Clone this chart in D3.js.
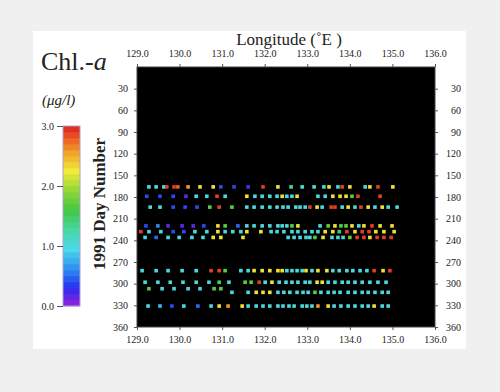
<!DOCTYPE html>
<html>
<head>
<meta charset="utf-8">
<script src="https://cdn.jsdelivr.net/npm/d3@7"></script>
<style>
  body { margin: 0; background: #f0f0f0; }
  svg text { font-family: "Liberation Serif", "DejaVu Serif", serif; fill: #222; }
</style>
</head>
<body>
<div id="chart"></div>
<script>
// axis ticks
var lonTicks = [129, 130, 131, 132, 133, 134, 135, 136];
var dayTicks = [30, 60, 90, 120, 150, 180, 210, 240, 270, 300, 330, 360];
var chlTicks = [0, 1, 2, 3];

// cruise tracks: day number, longitude of each station, chl-a (ug/l)
var dayA = 166;
var lonA = [129.28, 129.45, 129.63, 129.70, 129.87, 129.96, 130.20, 130.48, 130.79, 130.97, 131.28, 131.61, 131.96, 132.31, 132.62, 132.88, 133.16, 133.39, 133.51, 133.72, 133.82, 134.00, 134.36, 134.47, 134.66, 135.01];
var chlA = [1.0, 1.0, 1.0, 2.9, 2.9, 2.8, 2.6, 2.3, 2.3, 0.4, 0.4, 0.15, 2.9, 2.3, 1.3, 1.0, 1.0, 1.0, 2.3, 1.0, 2.9, 2.3, 1.0, 2.3, 2.9, 2.3];

var dayB = 179;
var lonB = [129.23, 129.54, 129.85, 130.15, 130.39, 130.64, 130.88, 131.07, 131.58, 131.77, 131.94, 132.12, 132.29, 132.41, 132.52, 132.64, 132.76, 133.25, 133.42, 133.60, 133.77, 133.91, 134.05, 134.19, 134.71];
var chlB = [0.4, 0.4, 0.4, 0.15, 1.0, 1.0, 2.9, 1.0, 2.3, 1.0, 1.0, 1.0, 1.0, 2.3, 1.0, 1.0, 2.3, 1.0, 1.0, 2.3, 2.3, 2.3, 1.7, 2.9, 2.9];

var dayC = 194;
var lonC = [129.31, 129.54, 129.85, 130.13, 130.41, 130.71, 130.93, 131.23, 131.58, 131.75, 131.94, 132.12, 132.29, 132.43, 132.55, 132.73, 132.83, 132.95, 133.06, 133.23, 133.35, 133.56, 133.65, 133.82, 133.96, 134.12, 134.26, 134.43, 134.59, 134.76, 134.90, 135.11];
var chlC = [1.0, 1.0, 0.4, 0.4, 0.4, 1.7, 2.9, 1.7, 1.0, 1.0, 1.0, 1.0, 1.0, 1.0, 1.0, 1.0, 1.0, 1.0, 2.9, 2.3, 1.0, 2.9, 2.9, 1.0, 2.3, 1.0, 2.9, 2.3, 1.0, 2.3, 1.0, 1.0];

var dayD = 220;
var lonD = [129.21, 129.49, 129.73, 130.06, 130.32, 130.57, 130.90, 131.07, 131.37, 131.58, 131.75, 131.94, 132.12, 132.31, 132.41, 132.52, 132.64, 132.78, 133.30, 133.49, 133.65, 133.79, 133.91, 134.05, 134.21, 134.33, 134.52, 134.71, 134.99];
var chlD = [0.4, 0.6, 0.15, 0.15, 0.15, 0.4, 2.3, 1.7, 0.5, 1.0, 1.0, 1.0, 1.0, 1.0, 1.0, 1.0, 1.7, 2.3, 1.0, 1.7, 2.3, 1.7, 1.7, 2.3, 1.0, 2.3, 2.9, 2.3, 2.3];

var dayE = 228;
var lonE = [129.09, 129.28, 129.56, 129.85, 130.10, 130.36, 130.64, 130.90, 131.07, 131.25, 131.44, 131.58, 131.91, 132.15, 132.29, 132.45, 132.64, 132.78, 132.95, 133.11, 133.25, 133.42, 133.60, 133.75, 133.93, 134.12, 134.29, 134.45, 134.61, 134.80, 135.04];
var chlE = [2.9, 1.0, 1.0, 0.4, 0.4, 1.0, 1.0, 2.3, 1.0, 1.0, 1.0, 2.3, 2.3, 1.0, 1.0, 1.0, 1.0, 1.0, 1.0, 1.0, 1.0, 2.3, 2.3, 1.5, 2.9, 2.3, 2.9, 2.9, 2.3, 2.3, 2.3];

var dayF = 236;
var lonF = [129.19, 129.45, 129.73, 129.99, 130.29, 130.55, 130.79, 130.97, 131.49, 132.55, 132.69, 132.83, 132.97, 133.06, 133.18, 133.37, 133.58, 133.72, 133.84, 134.00, 134.17, 134.33, 134.47, 134.64, 134.80, 134.97];
var chlF = [1.0, 0.5, 1.0, 1.0, 1.0, 1.0, 2.3, 2.3, 2.3, 1.0, 1.0, 1.0, 1.0, 1.0, 1.7, 2.3, 1.0, 1.0, 1.0, 1.7, 2.9, 2.9, 2.3, 2.9, 2.9, 2.9];

var dayG = 282;
var lonG = [129.12, 129.45, 129.73, 130.06, 130.39, 130.74, 130.93, 131.07, 131.44, 131.61, 131.75, 131.94, 132.12, 132.31, 132.41, 132.52, 132.64, 132.76, 132.88, 132.97, 133.11, 133.25, 133.46, 133.60, 133.75, 133.93, 134.07, 134.24, 134.40, 134.57, 134.78, 134.94];
var chlG = [1.0, 1.0, 1.0, 1.0, 1.0, 2.9, 2.9, 1.7, 1.0, 1.0, 2.3, 2.2, 2.3, 2.3, 2.3, 1.0, 1.0, 1.0, 1.0, 2.3, 1.0, 2.3, 2.3, 1.0, 1.0, 1.0, 1.0, 1.0, 1.0, 2.9, 2.3, 2.9];

var dayH = 298;
var lonH = [129.19, 129.49, 129.78, 130.08, 130.39, 130.69, 130.93, 131.16, 131.54, 131.68, 131.87, 132.01, 132.17, 132.34, 132.50, 132.64, 132.78, 132.95, 133.06, 133.23, 133.35, 133.49, 133.65, 133.82, 133.96, 134.12, 134.29, 134.47, 134.66, 134.85];
var chlH = [1.0, 1.0, 1.0, 1.0, 1.0, 1.0, 1.7, 1.0, 1.7, 1.7, 2.9, 1.0, 2.3, 1.0, 1.0, 1.0, 1.0, 1.0, 1.0, 2.3, 2.3, 1.0, 1.0, 1.0, 1.0, 1.0, 1.0, 1.0, 1.0, 1.0];

var dayI1 = 307;
var lonI1 = [129.28, 129.59, 129.87, 130.20, 130.48, 130.81, 130.97];
var chlI1 = [1.7, 1.0, 1.0, 1.0, 1.0, 1.7, 1.7];

var dayI2 = 312;
var lonI2 = [131.23, 131.61, 131.80, 131.96, 132.12, 132.31, 132.45, 132.59, 132.76, 132.90, 133.02, 133.18, 133.32, 133.49, 133.63, 133.77, 133.96, 134.12, 134.29, 134.43, 134.59, 134.76, 134.90];
var chlI2 = [1.0, 1.0, 2.3, 2.3, 2.3, 1.0, 1.0, 1.0, 1.0, 1.0, 1.0, 1.7, 1.0, 1.0, 1.0, 1.0, 1.0, 1.0, 1.0, 1.0, 1.0, 1.0, 1.0];

var dayJ = 331;
var lonJ = [129.26, 129.54, 129.82, 130.10, 130.43, 130.74, 130.93, 131.14, 131.47, 131.61, 131.80, 131.96, 132.12, 132.31, 132.43, 132.57, 132.69, 132.88, 132.99, 133.11, 133.25, 133.49, 133.63, 133.79, 133.96, 134.12, 134.29, 134.43, 134.57, 134.76, 134.90];
var chlJ = [1.0, 0.8, 0.4, 1.0, 0.5, 1.0, 2.3, 2.6, 2.3, 1.0, 1.0, 1.0, 1.0, 1.0, 1.0, 1.0, 1.0, 1.0, 1.0, 1.0, 2.6, 2.3, 1.0, 1.0, 1.0, 1.0, 1.0, 1.0, 2.3, 1.0, 1.0];

var tracks = [
  [dayA, lonA, chlA], [dayB, lonB, chlB], [dayC, lonC, chlC],
  [dayD, lonD, chlD], [dayE, lonE, chlE], [dayF, lonF, chlF],
  [dayG, lonG, chlG], [dayH, lonH, chlH], [dayI1, lonI1, chlI1],
  [dayI2, lonI2, chlI2], [dayJ, lonJ, chlJ]
];

// flatten into points
var points = [];
tracks.forEach(function (t) {
  t[1].forEach(function (lon, i) {
    points.push({ day: t[0], lon: lon, chl: t[2][i] });
  });
});

var W = 500, H = 392;
var svg = d3.select('#chart').append('svg').attr('width', W).attr('height', H);

// page background and white panel
svg.append('rect').attr('width', W).attr('height', H).attr('fill', '#f0f0f0');
svg.append('rect').attr('x', 33).attr('y', 31).attr('width', 433).attr('height', 318).attr('fill', '#fff');

// plot area (window.top is reserved, so pTop etc.)
var pLeft = 137, pRight = 435, pTop = 67, pBottom = 327;
var x = d3.scaleLinear().domain([129, 136]).range([pLeft, pRight]);
var y = d3.scaleLinear().domain([0, 360]).range([pTop, pBottom]);

// rainbow colour scale like the original colorbar
var color = d3.scaleLinear()
  .domain([0, 0.3, 0.6, 0.95, 1.25, 1.6, 1.95, 2.25, 2.55, 2.8, 3.0])
  .range(['#9a22dd', '#2a2af0', '#2a8cf0', '#4cd8e8', '#48d8a8', '#40c840', '#9ad838', '#f0ec38', '#f0a428', '#ec5a24', '#dc2020'])
  .clamp(true);

svg.append('rect').attr('x', pLeft).attr('y', pTop).attr('width', pRight - pLeft).attr('height', pBottom - pTop)
  .attr('fill', '#000').attr('stroke', '#444').attr('stroke-width', 1);

// axes on all four sides
var fmtLon = d3.format('.1f');
function styleAxis(g) {
  g.select('.domain').remove();
  g.selectAll('.tick line').attr('stroke', '#555');
  g.selectAll('.tick text').style('font-size', '10px').style('font-family', '"Liberation Serif", serif').attr('fill', '#222');
}
svg.append('g').attr('transform', 'translate(0,' + pTop + ')')
  .call(d3.axisTop(x).tickValues(lonTicks).tickFormat(fmtLon).tickSize(3).tickPadding(7))
  .call(styleAxis);
svg.append('g').attr('transform', 'translate(0,' + pBottom + ')')
  .call(d3.axisBottom(x).tickValues(lonTicks).tickFormat(fmtLon).tickSize(3).tickPadding(6))
  .call(styleAxis);
svg.append('g').attr('transform', 'translate(' + pLeft + ',0)')
  .call(d3.axisLeft(y).tickValues(dayTicks).tickSize(3).tickPadding(6))
  .call(styleAxis);
svg.append('g').attr('transform', 'translate(' + pRight + ',0)')
  .call(d3.axisRight(y).tickValues(dayTicks).tickSize(3).tickPadding(10))
  .call(styleAxis)
  .selectAll('.tick text').attr('text-anchor', 'end').attr('x', 26);

// stations
svg.append('g').selectAll('rect').data(points).enter().append('rect')
  .attr('x', function (d) { return x(d.lon) - 1.8; })
  .attr('y', function (d) { return y(d.day) - 1.8; })
  .attr('width', 3.6).attr('height', 3.6)
  .attr('fill', function (d) { return color(d.chl); });

// titles
svg.append('text').attr('x', 289).attr('y', 45).attr('text-anchor', 'middle')
  .style('font-size', '17px').text('Longitude (\u02DAE )');
svg.append('text').attr('transform', 'translate(105,204) rotate(-90)').attr('text-anchor', 'middle')
  .style('font-size', '17px').style('font-weight', 'bold').text('1991  Day Number');

var chl = svg.append('text').attr('x', 41).attr('y', 70).style('font-size', '26px');
chl.append('tspan').text('Chl.-');
chl.append('tspan').style('font-style', 'italic').text('a');
svg.append('text').attr('x', 42).attr('y', 105).style('font-size', '15px').style('font-style', 'italic')
  .text('(\u03BCg/l)');

// colorbar
var cb = d3.scaleLinear().domain([0, 3]).range([306, 126]);
var bands = d3.range(0, 3, 0.1);
svg.append('g').selectAll('rect').data(bands).enter().append('rect')
  .attr('x', 63).attr('width', 17)
  .attr('y', function (d) { return cb(d + 0.1); })
  .attr('height', function (d) { return cb(d) - cb(d + 0.1) + 0.3; })
  .attr('fill', function (d) { return color(d + 0.05); });
svg.append('rect').attr('x', 63).attr('y', 126).attr('width', 17).attr('height', 180)
  .attr('fill', 'none').attr('stroke', '#b0a0d0').attr('stroke-width', 1);
svg.append('g').attr('transform', 'translate(63,0)')
  .call(d3.axisLeft(cb).tickValues(chlTicks).tickFormat(fmtLon).tickSize(6).tickPadding(3))
  .call(styleAxis);
</script>
</body>
</html>
